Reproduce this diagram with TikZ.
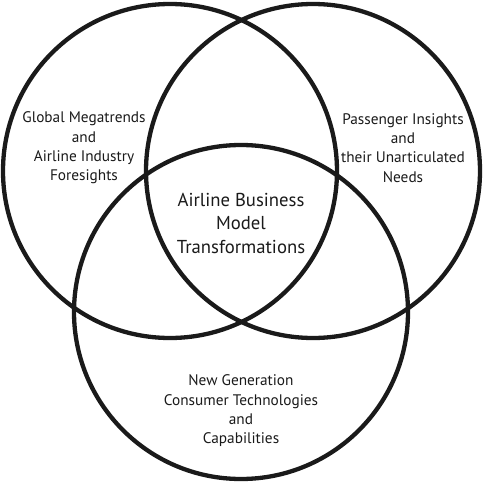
\documentclass[tikz,border=0pt]{standalone}
\usepackage{fontspec}
\setmainfont{PT Sans}
\usepackage{xcolor}
\usepackage{tikz}
\usetikzlibrary{positioning}
\definecolor{trazo}{RGB}{26,26,26}

\begin{document}
\begin{tikzpicture}[x=1pt, y=-1pt]
  \useasboundingbox (0,0) rectangle (483,482);
  % Three circles
  \tikzset{anillo/.style={draw=trazo, line width=4.3pt, circle, minimum size=334pt, inner sep=0pt}}
  \node[anillo] (izq) at (170,171) {};
  \node[anillo] (der) at (313,171) {};
  \node[anillo] (abajo) at (241,312) {};
  % Texts
  \tikzset{etiqueta/.style={font=\fontsize{15.3}{19.3}\selectfont, align=center, text=trazo}}
  \node[etiqueta] (tendencias) at (84,148)
    {Global Megatrends\\and\\Airline Industry\\Foresights};
  \node[etiqueta] (pasajeros) at (403,148)
    {Passenger Insights\\and\\their Unarticulated\\Needs};
  \node[etiqueta] (tecnologias) at (241,411)
    {New Generation\\Consumer Technologies\\and\\Capabilities};
  \node[etiqueta, font=\fontsize{18.7}{23.5}\selectfont] (modelo) at (241,223)
    {Airline Business\\Model\\Transformations};
\end{tikzpicture}
\end{document}
